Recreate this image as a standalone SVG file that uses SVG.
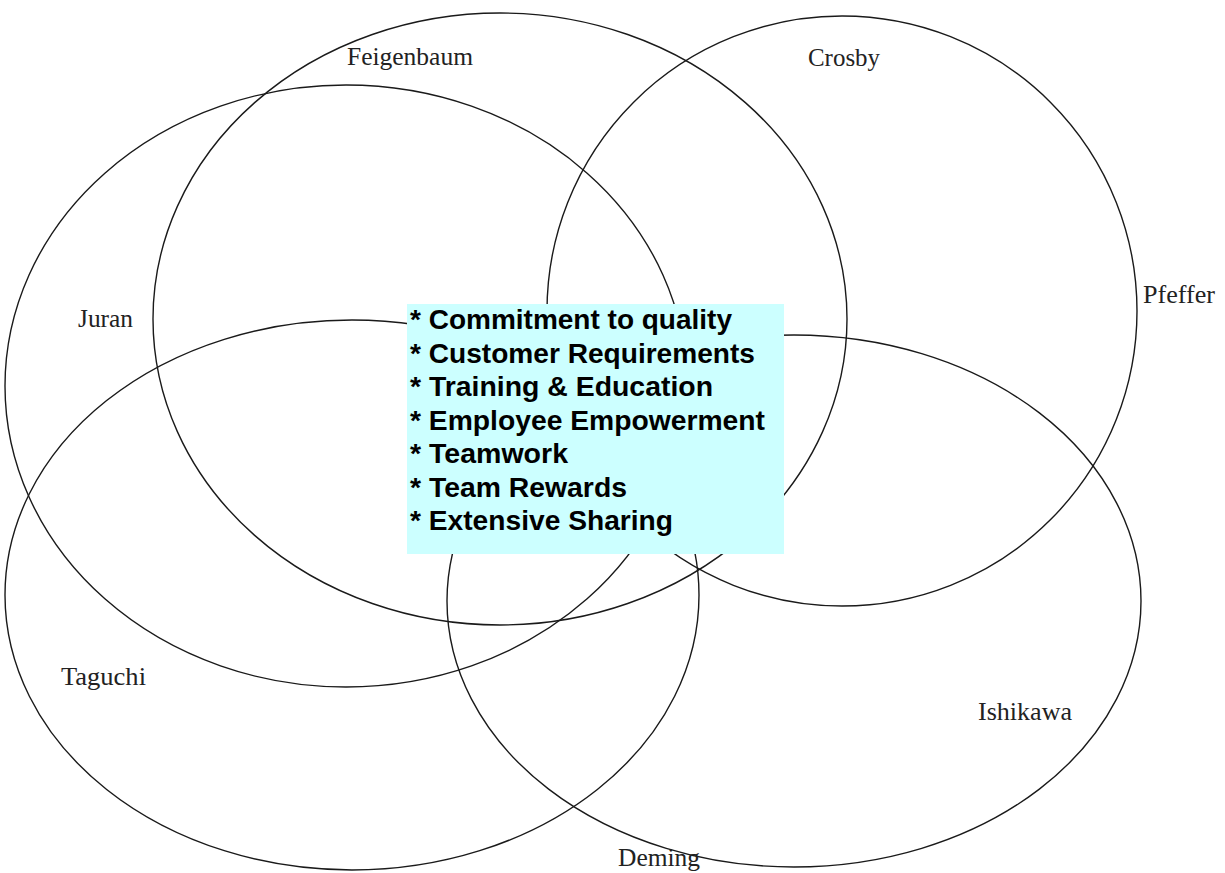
<svg xmlns="http://www.w3.org/2000/svg" width="1225" height="873" viewBox="0 0 1225 873">
<style>
.e{fill:none;stroke:#1a1a1a;stroke-width:1.4}
.lbl{font-family:"Liberation Serif","Times New Roman",serif;font-size:25px;fill:#222}
.box{fill:#ccffff}
.bt{font-family:"Liberation Sans",Arial,sans-serif;font-weight:bold;font-size:27.5px;fill:#000}
</style>
<rect width="1225" height="873" fill="#fff"/>
<g id="connectors"></g>
<g id="feigenbaum"><ellipse class="e" cx="500" cy="319" rx="347" ry="306"/><text class="lbl" x="347" y="65" textLength="126" lengthAdjust="spacingAndGlyphs">Feigenbaum</text></g>
<g id="crosby"><ellipse class="e" cx="842" cy="311" rx="295" ry="295"/><text class="lbl" x="808" y="66" textLength="72" lengthAdjust="spacingAndGlyphs">Crosby</text></g>
<g id="juran"><ellipse class="e" cx="346" cy="386" rx="341" ry="301"/><text class="lbl" x="78" y="327" textLength="55" lengthAdjust="spacingAndGlyphs">Juran</text></g>
<g id="taguchi"><ellipse class="e" cx="352" cy="595" rx="347" ry="275"/><text class="lbl" x="61" y="685" textLength="85" lengthAdjust="spacingAndGlyphs">Taguchi</text></g>
<g id="ishikawa"><ellipse class="e" cx="794" cy="601" rx="347" ry="266"/><text class="lbl" x="978" y="720" textLength="94" lengthAdjust="spacingAndGlyphs">Ishikawa</text></g>
<g id="pfeffer"><text class="lbl" x="1143" y="303" textLength="72" lengthAdjust="spacingAndGlyphs">Pfeffer</text></g>
<g id="deming"><text class="lbl" x="618" y="866" textLength="82" lengthAdjust="spacingAndGlyphs">Deming</text></g>
<g id="center">
<rect class="box" x="407" y="304" width="377" height="250"/>
<text class="bt" x="410" y="329" textLength="322" lengthAdjust="spacingAndGlyphs">* Commitment to quality</text>
<text class="bt" x="410" y="362.5" textLength="345" lengthAdjust="spacingAndGlyphs">* Customer Requirements</text>
<text class="bt" x="410" y="396" textLength="303" lengthAdjust="spacingAndGlyphs">* Training &amp; Education</text>
<text class="bt" x="410" y="429.5" textLength="355" lengthAdjust="spacingAndGlyphs">* Employee Empowerment</text>
<text class="bt" x="410" y="463" textLength="158" lengthAdjust="spacingAndGlyphs">* Teamwork</text>
<text class="bt" x="410" y="496.5" textLength="217" lengthAdjust="spacingAndGlyphs">* Team Rewards</text>
<text class="bt" x="410" y="530" textLength="263" lengthAdjust="spacingAndGlyphs">* Extensive Sharing</text>
</g>
</svg>
